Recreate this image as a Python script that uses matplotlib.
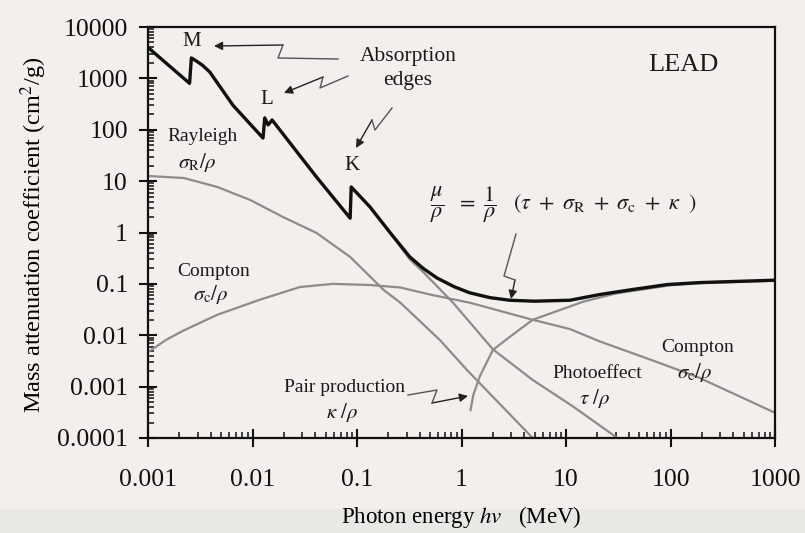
import numpy as np
import matplotlib
matplotlib.use('Agg')
import matplotlib.pyplot as plt
from matplotlib.patches import Rectangle, FancyArrowPatch
from matplotlib.ticker import FixedLocator, FixedFormatter, LogLocator, NullFormatter

plt.rcParams['font.family'] = ['Liberation Serif', 'DejaVu Serif']
plt.rcParams['mathtext.fontset'] = 'stix'

# mass attenuation of lead (MeV, cm^2/g)
energy_total = [0.001, 0.0016, 0.0025, 0.0026, 0.0028, 0.0033, 0.0039, 0.0065, 0.0126,
                0.0131, 0.0141, 0.0154, 0.041, 0.086, 0.088, 0.133, 0.207, 0.32, 0.43,
                0.58, 0.85, 1.2, 1.87, 2.9, 5.0, 10.9, 21, 44, 93, 191, 1000]
mu_total = [4000, 1750, 800, 2500, 2280, 1820, 1330, 300, 69,
            170, 124, 155, 12, 1.9, 7.7, 3.15, 1.0, 0.335, 0.2,
            0.131, 0.088, 0.067, 0.054, 0.048, 0.046, 0.048, 0.062, 0.078, 0.097, 0.106, 0.118]

energy_rayleigh = [0.001, 0.0022, 0.0046, 0.0095, 0.0196, 0.041, 0.086, 0.18, 0.26, 0.62, 1.13, 4.8]
mu_rayleigh = [12.6, 11.5, 7.7, 4.3, 2.0, 0.98, 0.335, 0.076, 0.043, 0.0081, 0.0021, 0.0001]

energy_compton = [0.001, 0.0015, 0.00216, 0.0046, 0.0117, 0.0285, 0.059, 0.133, 0.26, 0.5, 1.2,
                  4.8, 10.9, 21, 63, 180, 1000]
mu_compton = [0.0047, 0.0082, 0.0122, 0.025, 0.049, 0.087, 0.1, 0.095, 0.085, 0.062, 0.043,
              0.020, 0.0132, 0.0076, 0.0034, 0.00155, 0.00031]

energy_photo = [0.133, 0.207, 0.32, 0.43, 0.83, 2.0, 4.8, 11.7, 31]
mu_photo = [3.15, 0.98, 0.3, 0.17, 0.043, 0.0053, 0.00135, 0.00041, 0.0001]

energy_pair = [1.22, 1.3, 1.5, 2.0, 2.9, 4.8, 14.6, 30, 100, 191, 1000]
mu_pair = [0.00035, 0.0007, 0.0016, 0.0052, 0.0093, 0.020, 0.045, 0.065, 0.094, 0.103, 0.115]

x_ticks = [0.001, 0.01, 0.1, 1, 10, 100, 1000]
x_labels = ['0.001', '0.01', '0.1', '1', '10', '100', '1000']
y_ticks = [1e-4, 1e-3, 1e-2, 1e-1, 1, 10, 100, 1000, 10000]
y_labels = ['0.0001', '0.001', '0.01', '0.1', '1', '10', '100', '1000', '10000']

W, H = 805, 533
bg = '#f2efec'
grey = '#8c8c8c'


def fp(x, y):
    # pixel position in the picture -> figure fraction
    return x / W, 1 - y / H


fig = plt.figure(figsize=(W / 100, H / 100), dpi=100, facecolor=bg)
fig.patches.append(Rectangle((0, 0), 1, 1 - 509 / H, transform=fig.transFigure,
                             facecolor='#e9e8e5', edgecolor='none', zorder=-1))
ax = fig.add_axes([148 / W, 1 - 438 / H, (775 - 148) / W, (438 - 27) / H])
ax.set_facecolor(bg)

ax.plot(energy_rayleigh, mu_rayleigh, color=grey, lw=1.6)
ax.plot(energy_compton, mu_compton, color=grey, lw=1.6)
ax.plot(energy_photo, mu_photo, color=grey, lw=1.6)
ax.plot(energy_pair, mu_pair, color=grey, lw=1.6)
ax.plot(energy_total, mu_total, color='#111111', lw=2.4, zorder=3)

ax.set_xscale('log')
ax.set_yscale('log')
ax.set_xlim(0.001, 1000)
ax.set_ylim(1e-4, 1e4)

ax.xaxis.set_major_locator(FixedLocator(x_ticks))
ax.xaxis.set_major_formatter(FixedFormatter(x_labels))
ax.yaxis.set_major_locator(FixedLocator(y_ticks))
ax.yaxis.set_major_formatter(FixedFormatter(y_labels))
for a in (ax.xaxis, ax.yaxis):
    a.set_minor_locator(LogLocator(base=10, subs=np.arange(2, 10), numticks=20))
    a.set_minor_formatter(NullFormatter())

ax.tick_params(which='major', direction='inout', length=13, width=1.5, labelsize=18.5, colors='#111111')
ax.tick_params(which='minor', direction='in', length=4.5, width=1.1, colors='#111111')
ax.tick_params(axis='x', which='major', pad=16)
ax.tick_params(axis='y', which='major', pad=8)
for s in ax.spines.values():
    s.set_linewidth(1.6)
    s.set_color('#111111')

ax.set_xlabel(r'Photon energy $hv$   (MeV)', fontsize=16.5, va='center')
ax.xaxis.set_label_coords(0.5, -0.192)
ax.set_ylabel(r'Mass attenuation coefficient (cm$^{2}$/g)', fontsize=17.5, va='center')
ax.yaxis.set_label_coords(-0.182, 0.495)

# labels
txt = [
    ('M', 192, 42, 15), ('L', 267, 100, 15), ('K', 352, 165, 15),
    ('Absorption', 408, 57, 15.5), ('edges', 408, 80, 15.5),
    ('LEAD', 683, 65, 19),
    ('Rayleigh', 203, 137, 14), (r'$\sigma_{\rm R}/\rho$', 197, 162, 15),
    ('Compton', 214, 272, 14), (r'$\sigma_{\rm c}/\rho$', 211, 295, 15),
    ('Pair production', 344, 388, 14), (r'$\kappa\ /\rho$', 342, 413, 15),
    ('Photoeffect', 597, 373, 14), (r'$\tau\ /\rho$', 595, 398, 15),
    ('Compton', 698, 347, 14), (r'$\sigma_{\rm c}/\rho$', 695, 373, 15),
]
for s, x, y, size in txt:
    fig.text(*fp(x, y), s, ha='center', va='center', fontsize=size, color='#1a1a1a')

fig.text(*fp(430, 205),
         r'$\dfrac{\mu}{\rho}\ \ =\ \dfrac{1}{\rho}\ \ \ (\tau\ +\ \sigma_{\rm R}\ +\ \sigma_{\rm c}\ +\ \kappa\ \ )$',
         ha='left', va='center', fontsize=16, color='#1a1a1a')

# zigzag pointers
pointers = [
    ([(338, 59), (278, 58), (283, 45)], (214, 46)),
    ([(348, 76), (320, 88), (323, 77)], (284, 93)),
    ([(392, 108), (375, 130), (372, 120)], (356, 148)),
    ([(516, 234), (504, 276), (515, 280)], (511, 299)),
    ([(408, 395), (437, 390), (432, 403)], (468, 396)),
]
for pts, head in pointers:
    xs = [fp(*p)[0] for p in pts]
    ys = [fp(*p)[1] for p in pts]
    fig.add_artist(plt.Line2D(xs, ys, color='#555555', lw=1.0, transform=fig.transFigure))
    fig.add_artist(FancyArrowPatch(fp(*pts[-1]), fp(*head), transform=fig.transFigure,
                                   arrowstyle='-|>,head_length=5,head_width=2.5',
                                   color='#222222', lw=1.0, shrinkA=0, shrinkB=0))

fig.savefig('out.png', dpi=100, facecolor=fig.get_facecolor())
